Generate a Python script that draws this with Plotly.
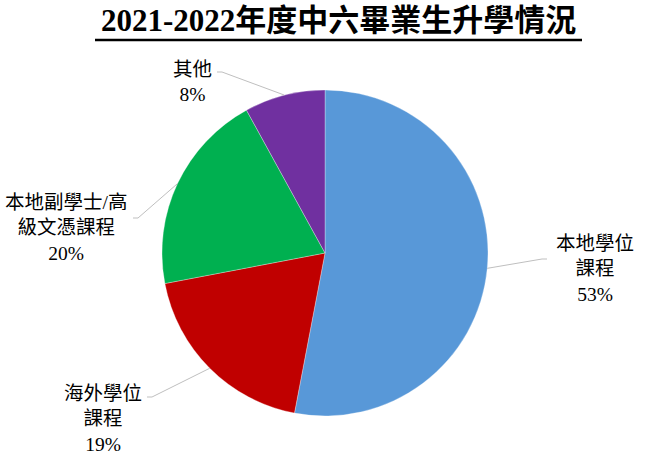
import math
import plotly.graph_objects as go

# ---- data ----
categories = ["本地學位課程", "海外學位課程", "本地副學士/高級文憑課程", "其他"]
label_lines = ["本地學位<br>課程", "海外學位<br>課程", "本地副學士/高<br>級文憑課程", "其他"]
values = [53, 19, 20, 8]
title_text = "2021-2022年度中六畢業生升學情況"

# ---- style / layout ----
colors = ["#5898d8", "#c00000", "#00b050", "#7030a0"]
W, H = 651, 460
CX, CY, R = 325, 253, 163
label_pos = [(595, 269), (103, 419), (66, 228), (193, 82)]
leader_start = [(547, 259), (147, 397), (133, 218), (217, 72)]
FONT = "Liberation Serif, Times New Roman, Noto Sans CJK TC, serif"

def px(x):
    return x / W

def py(y):
    return 1 - y / H

fig = go.Figure()
fig.add_trace(go.Pie(
    labels=categories,
    values=values,
    sort=False,
    direction="clockwise",
    rotation=0,
    marker=dict(colors=colors, line=dict(color="rgba(255,255,255,0.6)", width=0.5)),
    textinfo="none",
    hoverinfo="label+percent",
    showlegend=False,
    domain=dict(x=[px(CX - R), px(CX + R)], y=[py(CY + R), py(CY - R)]),
))

total = sum(values)
annotations = []
shapes = []
cum = 0
for i, v in enumerate(values):
    mid = (cum + v / 2) / total * 2 * math.pi
    cum += v
    ex = CX + R * math.sin(mid)
    ey = CY - R * math.cos(mid)
    pct = round(v / total * 100)
    lx, ly = label_pos[i]
    annotations.append(dict(
        x=px(lx), y=py(ly), xref="paper", yref="paper",
        text=f"{label_lines[i]}<br>{pct}%", showarrow=False,
        xanchor="center", yanchor="middle", align="center",
        font=dict(family=FONT, size=19.5, color="#000000"),
    ))
    sx, sy = leader_start[i]
    hx = sx + (5 if ex > sx else -5)
    shapes.append(dict(
        type="path", xref="paper", yref="paper",
        path=f"M {px(sx)} {py(sy)} L {px(hx)} {py(sy)} L {px(ex)} {py(ey)}",
        line=dict(color="#bfbfbf", width=1),
    ))

annotations.append(dict(
    x=px(338), y=py(21), xref="paper", yref="paper",
    text=f"<b>{title_text}</b>", showarrow=False,
    xanchor="center", yanchor="middle",
    font=dict(family=FONT, size=31, color="#000000"),
))
shapes.append(dict(
    type="line", xref="paper", yref="paper",
    x0=px(95), x1=px(582), y0=py(40), y1=py(40),
    line=dict(color="#000000", width=2.5),
))

fig.update_layout(
    width=W, height=H,
    margin=dict(l=0, r=0, t=0, b=0),
    paper_bgcolor="white", plot_bgcolor="white",
    annotations=annotations, shapes=shapes,
)

fig.write_html(
    "out.html",
    config={"displayModeBar": False},
    post_script="document.body.style.margin='0';document.body.style.padding='0';",
)
